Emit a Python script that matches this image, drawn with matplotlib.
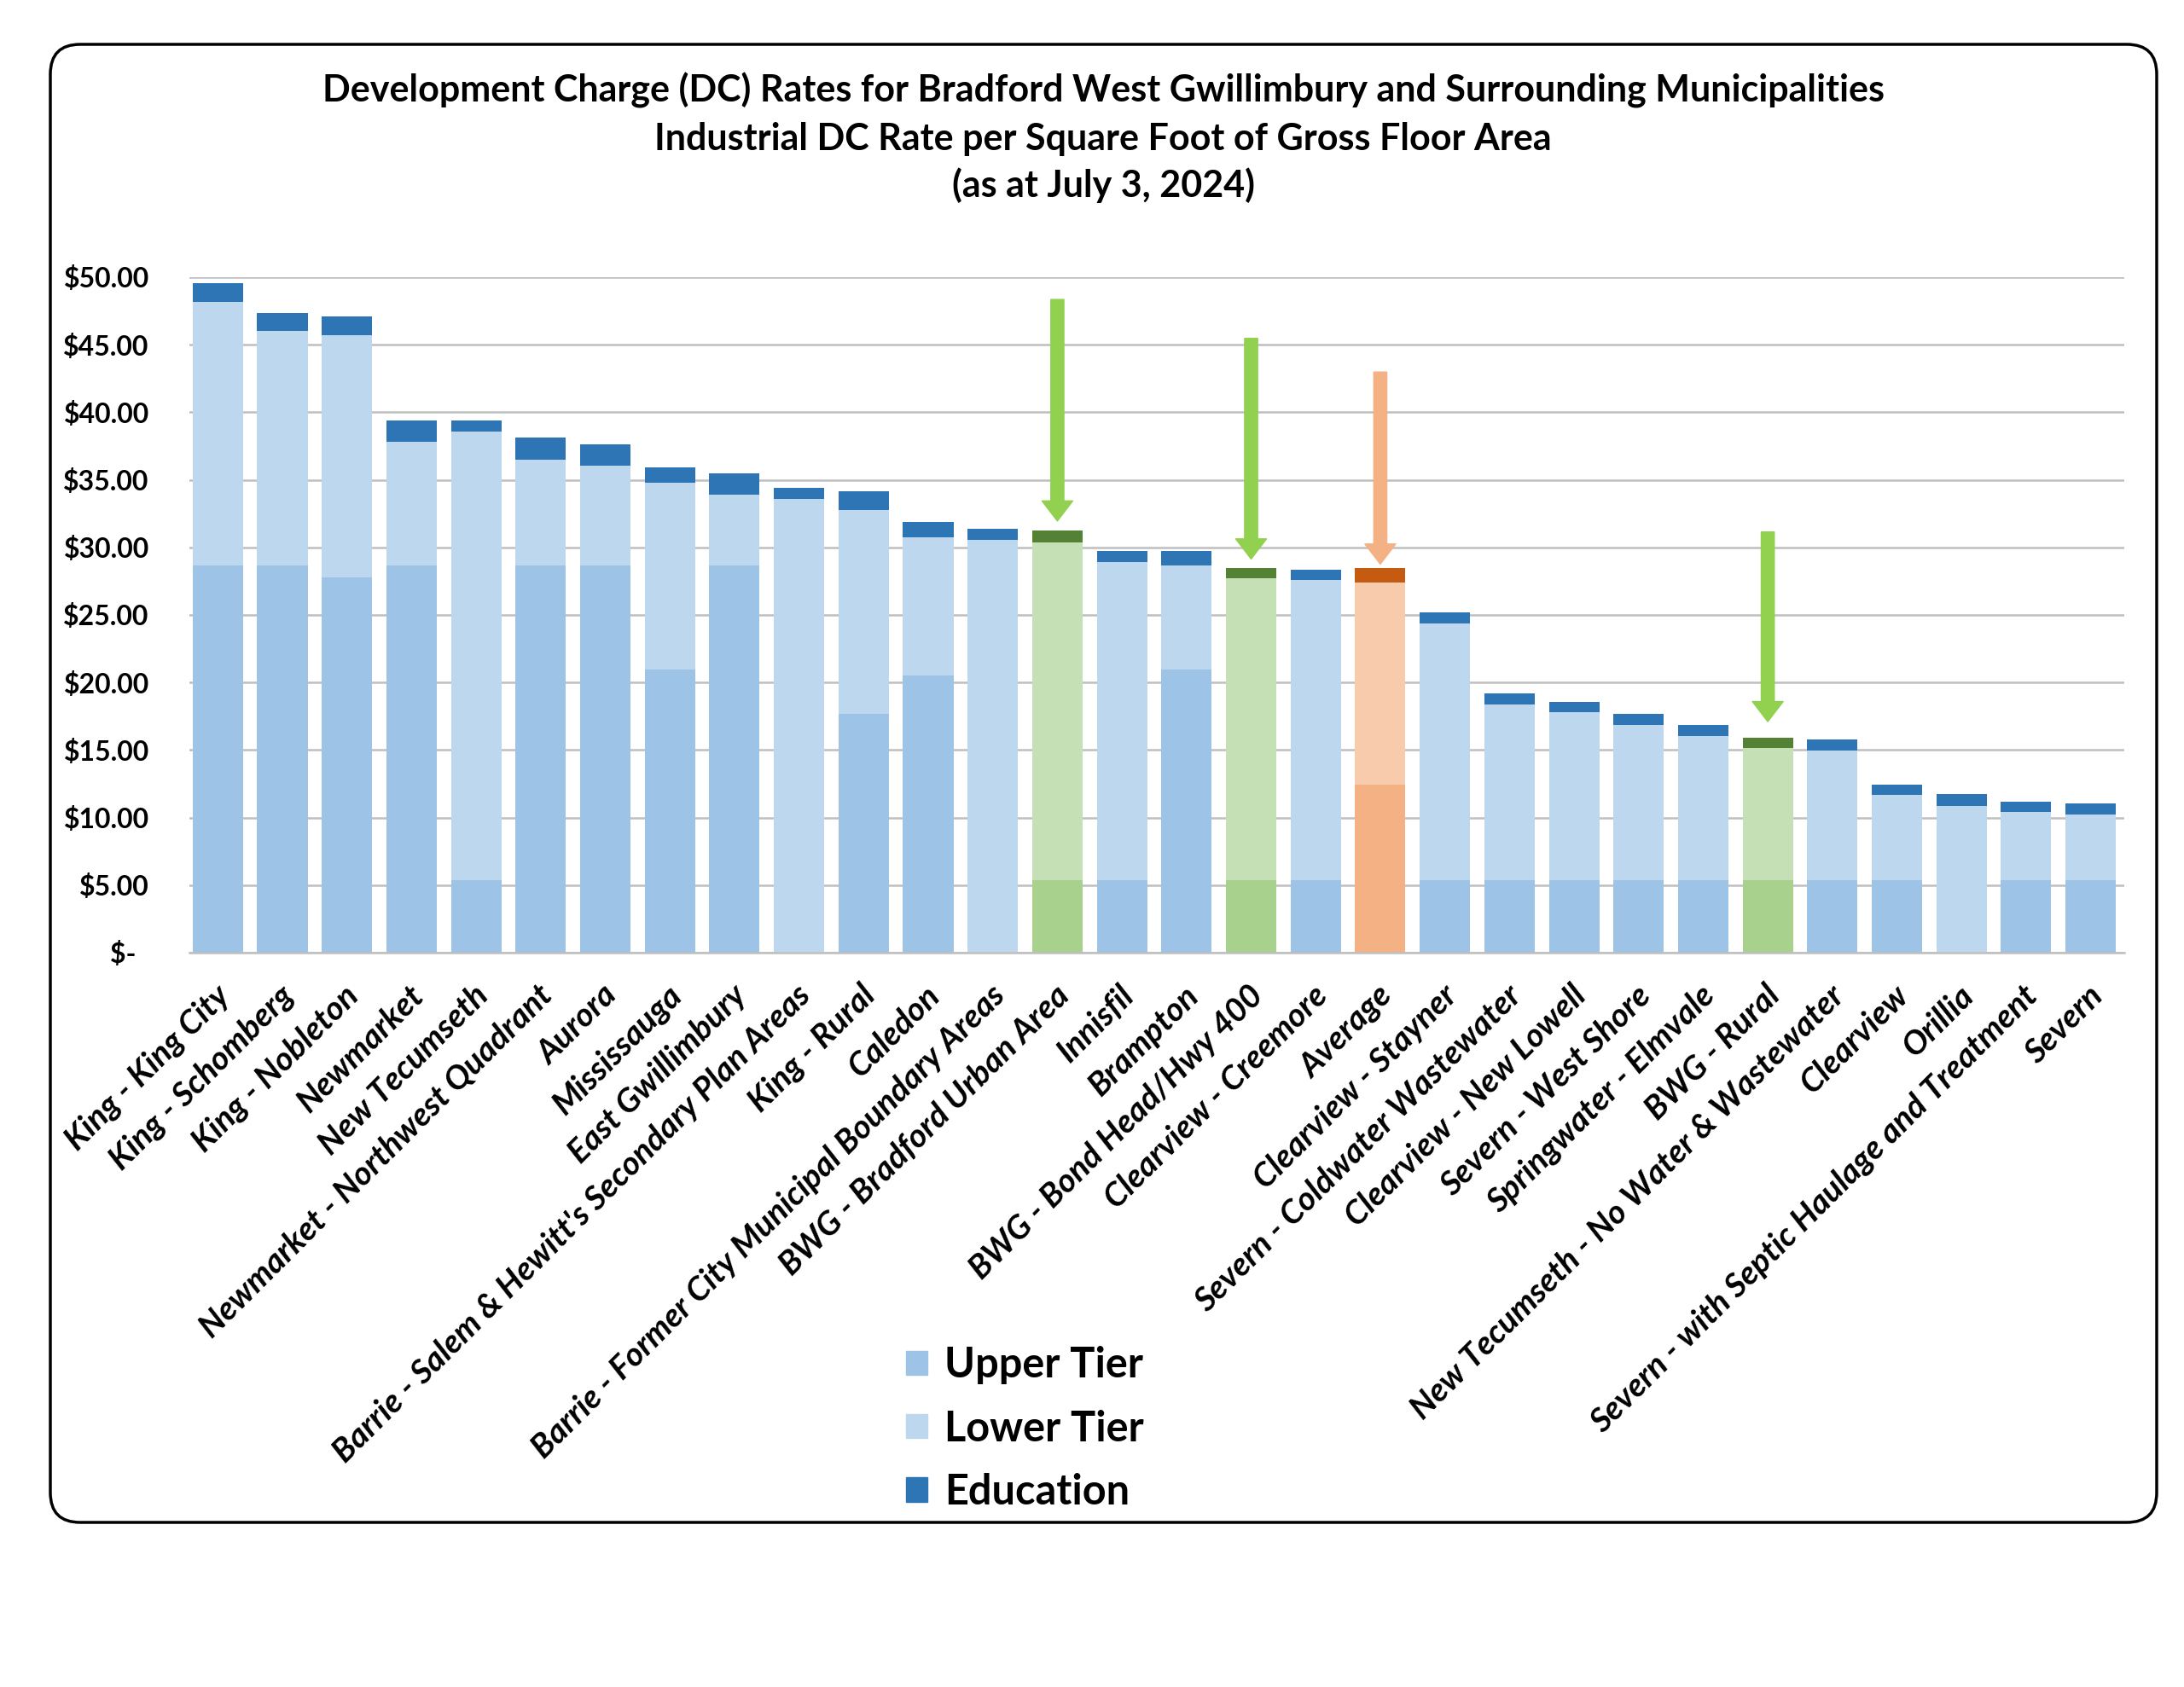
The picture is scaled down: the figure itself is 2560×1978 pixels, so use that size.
import matplotlib
matplotlib.use("Agg")
import matplotlib.pyplot as plt
from matplotlib.patches import FancyBboxPatch, Patch
from matplotlib.transforms import IdentityTransform, ScaledTranslation
import numpy as np

plt.rcParams['font.family'] = ['Lato', 'DejaVu Sans']

# ---------------- data ----------------
categories = [
    "King - King City", "King - Schomberg", "King - Nobleton", "Newmarket",
    "New Tecumseth", "Newmarket - Northwest Quadrant", "Aurora", "Mississauga",
    "East Gwillimbury", "Barrie - Salem & Hewitt's Secondary Plan Areas",
    "King - Rural", "Caledon", "Barrie - Former City Municipal Boundary Areas",
    "BWG - Bradford Urban Area", "Innisfil", "Brampton", "BWG - Bond Head/Hwy 400",
    "Clearview - Creemore", "Average", "Clearview - Stayner",
    "Severn - Coldwater Wastewater", "Clearview - New Lowell", "Severn - West Shore",
    "Springwater - Elmvale", "BWG - Rural", "New Tecumseth - No Water & Wastewater",
    "Clearview", "Orillia", "Severn - with Septic Haulage and Treatment", "Severn",
]
upper_tier = [28.69, 28.69, 27.77, 28.69, 5.37, 28.69, 28.69, 20.96, 28.69, 0.00,
              17.66, 20.54, 0.00, 5.37, 5.37, 20.96, 5.37, 5.37, 12.46, 5.37,
              5.37, 5.37, 5.37, 5.37, 5.37, 5.37, 5.37, 0.00, 5.37, 5.37]
lower_tier = [19.48, 17.31, 17.91, 9.13, 33.22, 7.83, 7.37, 13.84, 5.19, 33.57,
              15.10, 10.18, 30.55, 25.00, 23.56, 7.73, 22.33, 22.19, 14.93, 19.03,
              13.03, 12.43, 11.48, 10.68, 9.76, 9.62, 6.29, 10.88, 5.06, 4.88]
education = [1.41, 1.37, 1.41, 1.58, 0.81, 1.58, 1.58, 1.12, 1.58, 0.81,
             1.40, 1.13, 0.81, 0.85, 0.81, 1.05, 0.78, 0.81, 1.09, 0.78,
             0.81, 0.77, 0.81, 0.80, 0.81, 0.78, 0.80, 0.85, 0.77, 0.81]
series_names = ["Upper Tier", "Lower Tier", "Education"]
bwg_bars = ["BWG - Bradford Urban Area", "BWG - Bond Head/Hwy 400", "BWG - Rural"]
average_bar = "Average"
# arrow annotations: (category, tail value, tip value)
arrows = [("BWG - Bradford Urban Area", 48.35, 31.95),
          ("BWG - Bond Head/Hwy 400", 45.47, 29.14),
          ("Average", 42.98, 28.76),
          ("BWG - Rural", 31.14, 17.10)]
yticks = [0, 5, 10, 15, 20, 25, 30, 35, 40, 45, 50]
title_lines = ["Development Charge (DC) Rates for Bradford West Gwillimbury and Surrounding Municipalities",
               "Industrial DC Rate per Square Foot of Gross Floor Area",
               "(as at July 3, 2024)"]

# ---------------- styles ----------------
blue = ["#9DC3E6", "#BDD7EE", "#2E75B6"]
green = ["#A9D18E", "#C5E0B4", "#548235"]
orange = ["#F4B183", "#F8CBAD", "#C55A11"]
W, H = 2560, 1978

fig = plt.figure(figsize=(W / 100, H / 100), dpi=100)
ax = fig.add_axes([222 / W, 1 - 1117 / H, (2490 - 222) / W, (1117 - 325) / H])

x = np.arange(len(categories))
def pal(cat):
    if cat in bwg_bars:
        return green
    if cat == average_bar:
        return orange
    return blue

cols = [pal(c) for c in categories]
up = np.array(upper_tier)
lo = np.array(lower_tier)
ed = np.array(education)
bw = 0.78
ax.bar(x, up, bw, color=[c[0] for c in cols], zorder=2)
ax.bar(x, lo, bw, bottom=up, color=[c[1] for c in cols], zorder=2)
ax.bar(x, ed, bw, bottom=up + lo, color=[c[2] for c in cols], zorder=2)

for cat, tail, tip in arrows:
    i = categories.index(cat)
    col = "#F4B183" if cat == average_bar else "#92D050"
    ax.annotate("", xy=(i, tip), xytext=(i, tail),
                arrowprops=dict(arrowstyle="simple,head_length=17,head_width=26,tail_width=11",
                                mutation_scale=1, color=col, shrinkA=0, shrinkB=0),
                zorder=3)

ax.set_xlim(-0.44, len(categories) - 0.48)
ax.set_ylim(0, 50)
ax.set_yticks(yticks)
ax.set_yticklabels(["$-  " if v == 0 else f"${v:.2f}" for v in yticks],
                   fontsize=23, fontweight="bold")
ax.yaxis.grid(True, color="#BFBFBF", lw=1.8)
ax.set_axisbelow(True)
for s in ["top", "right", "left"]:
    ax.spines[s].set_visible(False)
ax.spines["bottom"].set_color("#BFBFBF")
ax.spines["bottom"].set_linewidth(1.8)
ax.tick_params(axis="y", length=0, pad=34)
ax.tick_params(axis="x", length=0, pad=32)
ax.set_xticks(x)
ax.set_xticklabels(categories, rotation=45, ha="right", va="center",
                   rotation_mode="anchor", fontsize=28, fontweight="bold", fontstyle="italic")
off = ScaledTranslation(0.08, 0, fig.dpi_scale_trans)
for lbl in ax.get_xticklabels():
    lbl.set_transform(lbl.get_transform() + off)

# title
for k, (line, yy) in enumerate(zip(title_lines, [106, 163, 217])):
    fig.text(1293 / W, 1 - yy / H, line, ha="center", va="center",
             fontsize=31, fontweight="bold")

# legend
handles = [Patch(color=blue[i]) for i in range(3)]
fig.legend(handles, series_names, loc="center left", bbox_to_anchor=(1062 / W, 1 - 1675 / H),
           frameon=False, prop=dict(size=35, weight="bold"), handlelength=0.52,
           handleheight=0.52, handletextpad=0.4, labelspacing=0.6, borderpad=0,
           borderaxespad=0)

# rounded border
box = FancyBboxPatch((59, H - 1785), 2528 - 59, 1785 - 52,
                     boxstyle="round,pad=0,rounding_size=35",
                     transform=IdentityTransform(), facecolor="none",
                     edgecolor="black", lw=2.5)
fig.add_artist(box)

fig.savefig("out.png", dpi=100, facecolor="white")
